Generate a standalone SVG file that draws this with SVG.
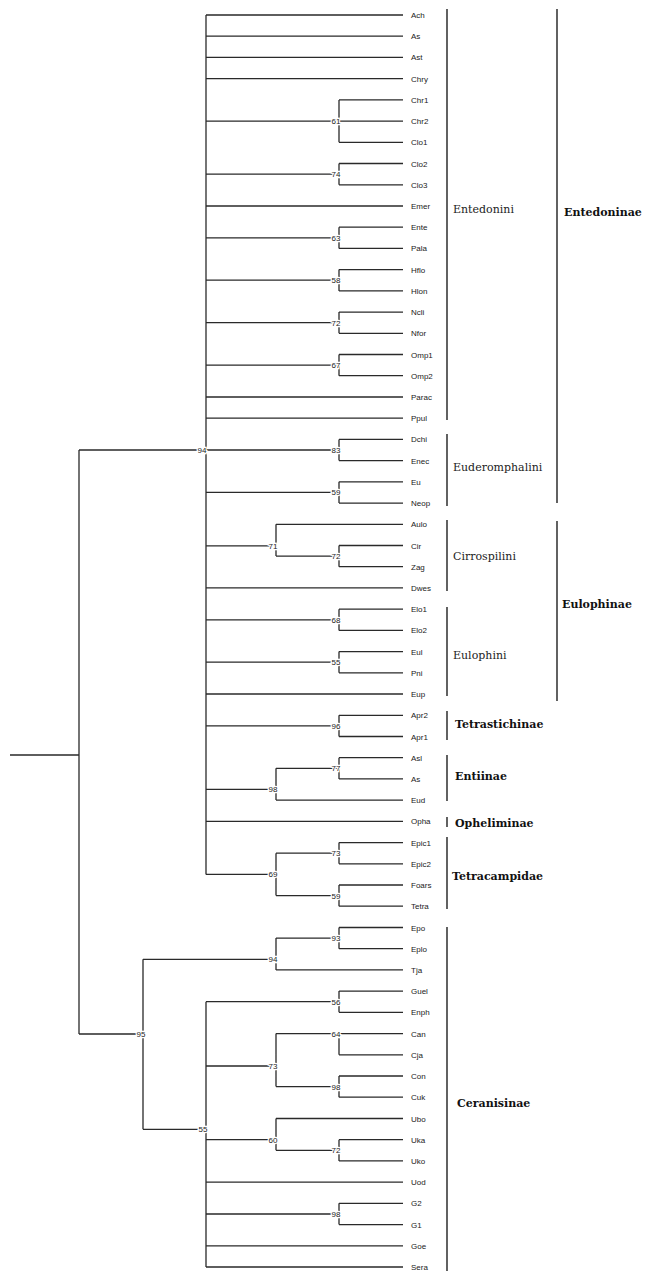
<svg xmlns="http://www.w3.org/2000/svg" width="647" height="1271" viewBox="0 0 647 1271">
<style>
.br{fill:none;stroke:#2a2a2a;stroke-width:1.3}
.bk{fill:none;stroke:#3a3a3a;stroke-width:1.6}
.lf{font-family:"Liberation Sans",Arial,sans-serif;font-size:8px;fill:#222}
.bs{font-family:"Liberation Sans",Arial,sans-serif;font-size:8px;fill:#222;text-anchor:middle;paint-order:stroke;stroke:#fff;stroke-width:2.5px}
.tr{font-family:"DejaVu Serif",serif;font-size:11px;fill:#222}
.sf{font-family:"DejaVu Serif",serif;font-size:11px;font-weight:bold;fill:#111}
</style>
<rect width="647" height="1271" fill="#fff"/>
<g id="connectors" class="br">
<path d="M10 755H79M79 450V1034M79 450H206M79 1034H143"/>
<path d="M206 15V874.4"/>
<path d="M206 15H403M206 36.2H403M206 57.4H403M206 78.7H403"/>
<path d="M206 121.1H403M339 99.9V142.3M339 99.9H403M339 142.3H403"/>
<path d="M206 174.2H339M339 163.5V184.8M339 163.5H403M339 184.8H403"/>
<path d="M206 206H403"/>
<path d="M206 237.8H339M339 227.2V248.4M339 227.2H403M339 248.4H403"/>
<path d="M206 280.2H339M339 269.6V290.9M339 269.6H403M339 290.9H403"/>
<path d="M206 322.7H339M339 312.1V333.3M339 312.1H403M339 333.3H403"/>
<path d="M206 365.1H339M339 354.5V375.7M339 354.5H403M339 375.7H403"/>
<path d="M206 397H403M206 418.2H403"/>
<path d="M206 450H339M339 439.4V460.6M339 439.4H403M339 460.6H403"/>
<path d="M206 492.4H339M339 481.8V503.1M339 481.8H403M339 503.1H403"/>
<path d="M206 545.8H276M276 524.3V556.1M276 524.3H403M276 556.1H339M339 545.5V566.7M339 545.5H403M339 566.7H403"/>
<path d="M206 587.9H403"/>
<path d="M206 619.8H339M339 609.2V630.4M339 609.2H403M339 630.4H403"/>
<path d="M206 662.2H339M339 651.6V672.8M339 651.6H403M339 672.8H403"/>
<path d="M206 694H403"/>
<path d="M206 725.9H339M339 715.3V736.5M339 715.3H403M339 736.5H403"/>
<path d="M206 789.4H276M276 768.3V800.1M276 800.1H403M276 768.3H339M339 757.7V778.9M339 757.7H403M339 778.9H403"/>
<path d="M206 821.4H403"/>
<path d="M206 874.4H276M276 853.2V895.6M276 853.2H339M339 842.6V863.8M339 842.6H403M339 863.8H403M276 895.6H339M339 885V906.2M339 885H403M339 906.2H403"/>
<path d="M143 959.3V1129.3M143 959.3H276M276 938.1V969.9M276 969.9H403M276 938.1H339M339 927.5V948.7M339 927.5H403M339 948.7H403"/>
<path d="M143 1129.3H206M206 1001.7V1267"/>
<path d="M206 1001.7H339M339 991.1V1012.3M339 991.1H403M339 1012.3H403"/>
<path d="M206 1066H276M276 1033.6V1086.6M276 1033.6H403M339 1033.6V1054.8M339 1054.8H403M276 1086.6H339M339 1076V1097.2M339 1076H403M339 1097.2H403"/>
<path d="M206 1139.7H276M276 1118.5V1150.3M276 1118.5H403M276 1150.3H339M339 1139.7V1160.9M339 1139.7H403M339 1160.9H403"/>
<path d="M206 1182.1H403"/>
<path d="M206 1214H339M339 1203.3V1224.6M339 1203.3H403M339 1224.6H403"/>
<path d="M206 1245.8H403M206 1267H403"/>
</g>
<g id="support">
<g id="s61"><text class="bs" x="336" y="124">61</text></g>
<g id="s74"><text class="bs" x="336" y="177">74</text></g>
<g id="s63"><text class="bs" x="336" y="241">63</text></g>
<g id="s58"><text class="bs" x="336" y="283">58</text></g>
<g id="s72a"><text class="bs" x="336" y="326">72</text></g>
<g id="s67"><text class="bs" x="336" y="368">67</text></g>
<g id="s94a"><text class="bs" x="202" y="453">94</text></g>
<g id="s83"><text class="bs" x="336" y="453">83</text></g>
<g id="s59a"><text class="bs" x="336" y="495">59</text></g>
<g id="s71"><text class="bs" x="273" y="549">71</text></g>
<g id="s72b"><text class="bs" x="336" y="559">72</text></g>
<g id="s68"><text class="bs" x="336" y="623">68</text></g>
<g id="s55a"><text class="bs" x="336" y="665">55</text></g>
<g id="s96"><text class="bs" x="336" y="729">96</text></g>
<g id="s77"><text class="bs" x="336" y="771">77</text></g>
<g id="s98a"><text class="bs" x="273" y="792">98</text></g>
<g id="s73a"><text class="bs" x="336" y="856">73</text></g>
<g id="s69"><text class="bs" x="273" y="877">69</text></g>
<g id="s59b"><text class="bs" x="336" y="899">59</text></g>
<g id="s93"><text class="bs" x="336" y="941">93</text></g>
<g id="s94b"><text class="bs" x="273" y="962">94</text></g>
<g id="s56"><text class="bs" x="336" y="1005">56</text></g>
<g id="s95"><text class="bs" x="141" y="1037">95</text></g>
<g id="s64"><text class="bs" x="336" y="1037">64</text></g>
<g id="s73b"><text class="bs" x="273" y="1069">73</text></g>
<g id="s98b"><text class="bs" x="336" y="1090">98</text></g>
<g id="s55b"><text class="bs" x="203" y="1132">55</text></g>
<g id="s60"><text class="bs" x="273" y="1143">60</text></g>
<g id="s72c"><text class="bs" x="336" y="1153">72</text></g>
<g id="s98c"><text class="bs" x="336" y="1217">98</text></g>
</g>
<g id="leaves" class="lf">
<g id="n_Ach"><text x="411" y="18">Ach</text></g>
<g id="n_As1"><text x="411" y="39.2">As</text></g>
<g id="n_Ast"><text x="411" y="60.4">Ast</text></g>
<g id="n_Chry"><text x="411" y="81.7">Chry</text></g>
<g id="n_Chr1"><text x="411" y="102.9">Chr1</text></g>
<g id="n_Chr2"><text x="411" y="124.1">Chr2</text></g>
<g id="n_Clo1"><text x="411" y="145.3">Clo1</text></g>
<g id="n_Clo2"><text x="411" y="166.5">Clo2</text></g>
<g id="n_Clo3"><text x="411" y="187.8">Clo3</text></g>
<g id="n_Emer"><text x="411" y="209">Emer</text></g>
<g id="n_Ente"><text x="411" y="230.2">Ente</text></g>
<g id="n_Pala"><text x="411" y="251.4">Pala</text></g>
<g id="n_Hflo"><text x="411" y="272.6">Hflo</text></g>
<g id="n_Hlon"><text x="411" y="293.9">Hlon</text></g>
<g id="n_Ncli"><text x="411" y="315.1">Ncli</text></g>
<g id="n_Nfor"><text x="411" y="336.3">Nfor</text></g>
<g id="n_Omp1"><text x="411" y="357.5">Omp1</text></g>
<g id="n_Omp2"><text x="411" y="378.7">Omp2</text></g>
<g id="n_Parac"><text x="411" y="400">Parac</text></g>
<g id="n_Ppul"><text x="411" y="421.2">Ppul</text></g>
<g id="n_Dchi"><text x="411" y="442.4">Dchi</text></g>
<g id="n_Enec"><text x="411" y="463.6">Enec</text></g>
<g id="n_Eu"><text x="411" y="484.8">Eu</text></g>
<g id="n_Neop"><text x="411" y="506.1">Neop</text></g>
<g id="n_Aulo"><text x="411" y="527.3">Aulo</text></g>
<g id="n_Cir"><text x="411" y="548.5">Cir</text></g>
<g id="n_Zag"><text x="411" y="569.7">Zag</text></g>
<g id="n_Dwes"><text x="411" y="590.9">Dwes</text></g>
<g id="n_Elo1"><text x="411" y="612.2">Elo1</text></g>
<g id="n_Elo2"><text x="411" y="633.4">Elo2</text></g>
<g id="n_Eul"><text x="411" y="654.6">Eul</text></g>
<g id="n_Pni"><text x="411" y="675.8">Pni</text></g>
<g id="n_Eup"><text x="411" y="697">Eup</text></g>
<g id="n_Apr2"><text x="411" y="718.3">Apr2</text></g>
<g id="n_Apr1"><text x="411" y="739.5">Apr1</text></g>
<g id="n_Asl"><text x="411" y="760.7">Asl</text></g>
<g id="n_As2"><text x="411" y="781.9">As</text></g>
<g id="n_Eud"><text x="411" y="803.1">Eud</text></g>
<g id="n_Opha"><text x="411" y="824.4">Opha</text></g>
<g id="n_Epic1"><text x="411" y="845.6">Epic1</text></g>
<g id="n_Epic2"><text x="411" y="866.8">Epic2</text></g>
<g id="n_Foars"><text x="411" y="888">Foars</text></g>
<g id="n_Tetra"><text x="411" y="909.2">Tetra</text></g>
<g id="n_Epo"><text x="411" y="930.5">Epo</text></g>
<g id="n_Eplo"><text x="411" y="951.7">Eplo</text></g>
<g id="n_Tja"><text x="411" y="972.9">Tja</text></g>
<g id="n_Guel"><text x="411" y="994.1">Guel</text></g>
<g id="n_Enph"><text x="411" y="1015.3">Enph</text></g>
<g id="n_Can"><text x="411" y="1036.6">Can</text></g>
<g id="n_Cja"><text x="411" y="1057.8">Cja</text></g>
<g id="n_Con"><text x="411" y="1079">Con</text></g>
<g id="n_Cuk"><text x="411" y="1100.2">Cuk</text></g>
<g id="n_Ubo"><text x="411" y="1121.5">Ubo</text></g>
<g id="n_Uka"><text x="411" y="1142.7">Uka</text></g>
<g id="n_Uko"><text x="411" y="1163.9">Uko</text></g>
<g id="n_Uod"><text x="411" y="1185.1">Uod</text></g>
<g id="n_G2"><text x="411" y="1206.3">G2</text></g>
<g id="n_G1"><text x="411" y="1227.6">G1</text></g>
<g id="n_Goe"><text x="411" y="1248.8">Goe</text></g>
<g id="n_Sera"><text x="411" y="1270">Sera</text></g>
</g>
<g id="clades">
<g id="c_Entedonini"><path class="bk" d="M447 9V420"/><text class="tr" x="453" y="213">Entedonini</text></g>
<g id="c_Euderomphalini"><path class="bk" d="M447 434V506"/><text class="tr" x="453" y="471">Euderomphalini</text></g>
<g id="c_Entedoninae"><path class="bk" d="M557 9V503"/><text class="sf" x="564" y="216">Entedoninae</text></g>
<g id="c_Cirrospilini"><path class="bk" d="M447 520V591"/><text class="tr" x="453" y="560">Cirrospilini</text></g>
<g id="c_Eulophini"><path class="bk" d="M447 607V696"/><text class="tr" x="453" y="659">Eulophini</text></g>
<g id="c_Eulophinae"><path class="bk" d="M557 521V701"/><text class="sf" x="562" y="608">Eulophinae</text></g>
<g id="c_Tetrastichinae"><path class="bk" d="M447 711V740"/><text class="sf" x="455" y="728">Tetrastichinae</text></g>
<g id="c_Entiinae"><path class="bk" d="M447 755V801"/><text class="sf" x="455" y="780">Entiinae</text></g>
<g id="c_Opheliminae"><path class="bk" d="M447 817V827"/><text class="sf" x="455" y="827">Opheliminae</text></g>
<g id="c_Tetracampidae"><path class="bk" d="M447 837V909"/><text class="sf" x="452" y="880">Tetracampidae</text></g>
<g id="c_Ceranisinae"><path class="bk" d="M447 927V1271"/><text class="sf" x="457" y="1107">Ceranisinae</text></g>
</g>
</svg>
